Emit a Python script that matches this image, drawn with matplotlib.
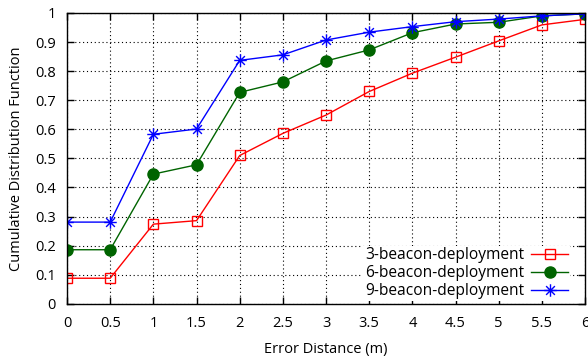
import matplotlib
matplotlib.use('Agg')
import matplotlib.pyplot as plt
from matplotlib.path import Path

plt.rcParams['font.family'] = ['Open Sans', 'DejaVu Sans']

distance = [0, 0.5, 1, 1.5, 2, 2.5, 3, 3.5, 4, 4.5, 5, 5.5, 6]
cdf_3 = [0.088, 0.088, 0.274, 0.286, 0.51, 0.586, 0.649, 0.73, 0.793, 0.848, 0.904, 0.959, 0.978]
cdf_6 = [0.186, 0.186, 0.446, 0.478, 0.727, 0.763, 0.835, 0.873, 0.932, 0.962, 0.968, 0.99, 0.997]
cdf_9 = [0.281, 0.281, 0.583, 0.601, 0.837, 0.856, 0.907, 0.934, 0.953, 0.97, 0.979, 0.99, 0.997]
labels = ['3-beacon-deployment', '6-beacon-deployment', '9-beacon-deployment']

# gnuplot style asterisk: plus and cross together
star = Path([(-1, 0), (1, 0), (0, -1), (0, 1), (-0.7, -0.7), (0.7, 0.7), (-0.7, 0.7), (0.7, -0.7)],
            [Path.MOVETO, Path.LINETO] * 4)

fs = 10.5

fig = plt.figure(figsize=(5.88, 3.6), dpi=100)
ax = fig.add_axes([0.114, 0.156, 0.881, 0.808])

ax.plot(distance, cdf_3, color='#ff0000', lw=1, marker='s', ms=7.5, mfc='none', mew=1, label=labels[0])
ax.plot(distance, cdf_6, color='#006400', lw=1, marker='o', ms=8, label=labels[1])
ax.plot(distance, cdf_9, color='#0000ff', lw=1, marker=star, ms=9, mew=1, label=labels[2])

ax.set_xlim(0, 6)
ax.set_ylim(0, 1)
ax.set_xticks([0, 0.5, 1, 1.5, 2, 2.5, 3, 3.5, 4, 4.5, 5, 5.5, 6])
ax.set_xticklabels(['0', '0.5', '1', '1.5', '2', '2.5', '3', '3.5', '4', '4.5', '5', '5.5', '6'])
ax.set_yticks([0, 0.1, 0.2, 0.3, 0.4, 0.5, 0.6, 0.7, 0.8, 0.9, 1])
ax.set_yticklabels(['0', '0.1', '0.2', '0.3', '0.4', '0.5', '0.6', '0.7', '0.8', '0.9', '1'])
ax.tick_params(direction='in', length=5, width=1, top=True, right=True, labelsize=fs)
ax.tick_params(axis='x', pad=9)
ax.tick_params(axis='y', pad=8)
ax.grid(True, color='black', linestyle=(0, (1, 2.5)), lw=0.8)
for s in ax.spines.values():
    s.set_linewidth(1)

ax.set_xlabel('Error Distance (m)', fontsize=fs, labelpad=8)
ax.set_ylabel('Cumulative Distribution Function', fontsize=fs, labelpad=8)

leg = ax.legend(loc='lower right', bbox_to_anchor=(0.971, 0.01), markerfirst=False, fontsize=11.2,
                handlelength=2.4, labelspacing=0.13, borderpad=0.1, handletextpad=0.45,
                borderaxespad=0, fancybox=False, framealpha=1, edgecolor='none')
for t in leg.get_texts():
    t.set_ha('right')

fig.savefig('out.png', dpi=100)
